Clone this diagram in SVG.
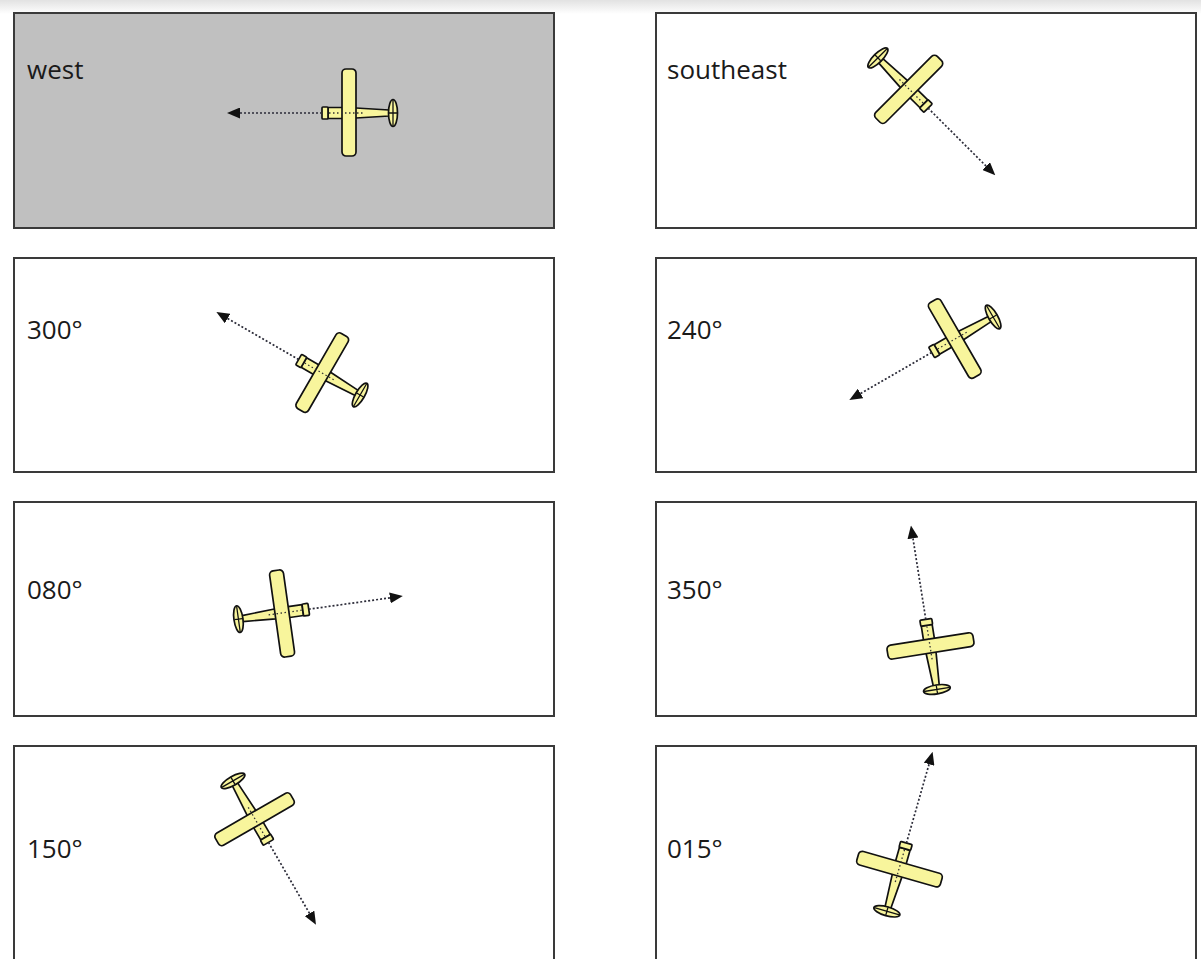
<svg xmlns="http://www.w3.org/2000/svg" width="1201" height="959" viewBox="0 0 1201 959">
  <defs>
    <style>
      .panel { fill: #ffffff; stroke: #3a3a3a; stroke-width: 2; }
      .panel.active { fill: #c0c0c0; }
      .label { font-family: "Open Sans", "Liberation Sans", sans-serif; font-size: 26px; fill: #1a1a1a; }
      .body { fill: #f8f59c; stroke: #111111; stroke-width: 1.7; stroke-linejoin: round; }
      .detail { fill: none; stroke: #111111; stroke-width: 1.3; }
      .axis { fill: none; stroke: #333333; stroke-width: 1.3; stroke-dasharray: 1.5 2.5; }
      .heading { fill: none; stroke: #2b2b38; stroke-width: 1.7; stroke-dasharray: 2 2; }
    </style>
    <linearGradient id="topShade" x1="0" y1="0" x2="0" y2="1">
      <stop offset="0" stop-color="#e2e2e2"/>
      <stop offset="1" stop-color="#ffffff"/>
    </linearGradient>
    <marker id="arrowhead" viewBox="0 0 13 11" refX="0" refY="5.5" markerWidth="13" markerHeight="11" markerUnits="userSpaceOnUse" orient="auto">
      <path d="M0,0 L13,5.5 L0,11 Z" fill="#111111"/>
    </marker>
    <!-- plane seen from above, nose toward +x, wing centre at the origin -->
    <g id="plane">
      <path class="body" d="M21,-5.5 L7,-5.5 L-7,-5 L-40,-3 L-40,3 L-7,5 L7,5.5 L21,5.5 Z"/>
      <rect class="body" x="21" y="-6" width="6" height="12" rx="1"/>
      <ellipse class="body" cx="-44" cy="0" rx="4.5" ry="13.5"/>
      <path class="detail" d="M-44,-13 L-44,13 M-48,0 L-40,0"/>
      <rect class="body" x="-7" y="-43" width="14" height="87" rx="4"/>
      <path class="axis" d="M20,0 L-14,0"/>
    </g>
  </defs>

  <rect x="0" y="0" width="1201" height="959" fill="#ffffff"/>
  <rect x="0" y="0" width="1201" height="14" fill="url(#topShade)"/>

  <!-- left column -->
  <g id="panel-west">
    <rect class="panel active" x="14" y="13" width="540" height="215"/>
    <text class="label" x="27" y="79">west</text>
    <use href="#plane" transform="translate(349,113) rotate(180)"/>
  </g>
  <g id="panel-300">
    <rect class="panel" x="14" y="258" width="540" height="214"/>
    <text class="label" x="27" y="339">300°</text>
    <use href="#plane" transform="translate(322,373) rotate(210)"/>
  </g>
  <g id="panel-080">
    <rect class="panel" x="14" y="502" width="540" height="214"/>
    <text class="label" x="27" y="599">080°</text>
    <use href="#plane" transform="translate(282,613) rotate(-8)"/>
  </g>
  <g id="panel-150">
    <rect class="panel" x="14" y="746" width="540" height="220"/>
    <text class="label" x="27" y="858">150°</text>
    <use href="#plane" transform="translate(255,819) rotate(60)"/>
  </g>

  <!-- right column -->
  <g id="panel-southeast">
    <rect class="panel" x="656" y="13" width="540" height="215"/>
    <text class="label" x="667" y="79">southeast</text>
    <use href="#plane" transform="translate(909,89) rotate(45)"/>
  </g>
  <g id="panel-240">
    <rect class="panel" x="656" y="258" width="540" height="214"/>
    <text class="label" x="667" y="339">240°</text>
    <use href="#plane" transform="translate(955,339) rotate(150)"/>
  </g>
  <g id="panel-350">
    <rect class="panel" x="656" y="502" width="540" height="214"/>
    <text class="label" x="667" y="599">350°</text>
    <use href="#plane" transform="translate(930,646) rotate(-99)"/>
  </g>
  <g id="panel-015">
    <rect class="panel" x="656" y="746" width="540" height="220"/>
    <text class="label" x="667" y="858">015°</text>
    <use href="#plane" transform="translate(899,869) rotate(-74)"/>
  </g>

  <!-- heading arrows, drawn from each nose along the flight direction -->
  <g id="connectors">
    <path class="heading" marker-end="url(#arrowhead)" transform="translate(349,113) rotate(180)" d="M27,0 L109,0"/>
    <path class="heading" marker-end="url(#arrowhead)" transform="translate(322,373) rotate(210)" d="M27,0 L109,0"/>
    <path class="heading" marker-end="url(#arrowhead)" transform="translate(282,613) rotate(-8)" d="M27,0 L109,0"/>
    <path class="heading" marker-end="url(#arrowhead)" transform="translate(255,819) rotate(60)" d="M27,0 L109,0"/>
    <path class="heading" marker-end="url(#arrowhead)" transform="translate(909,89) rotate(45)" d="M27,0 L109,0"/>
    <path class="heading" marker-end="url(#arrowhead)" transform="translate(955,339) rotate(150)" d="M27,0 L109,0"/>
    <path class="heading" marker-end="url(#arrowhead)" transform="translate(930,646) rotate(-99)" d="M27,0 L109,0"/>
    <path class="heading" marker-end="url(#arrowhead)" transform="translate(899,869) rotate(-74)" d="M27,0 L109,0"/>
  </g>
</svg>
